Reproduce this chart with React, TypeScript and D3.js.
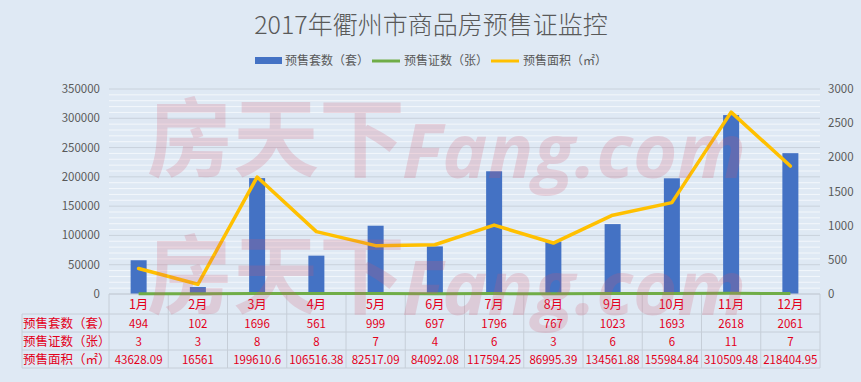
import React from "react";
import * as d3 from "d3";

const months = ["1月", "2月", "3月", "4月", "5月", "6月", "7月", "8月", "9月", "10月", "11月", "12月"];
const units = [494, 102, 1696, 561, 999, 697, 1796, 767, 1023, 1693, 2618, 2061];
const permits = [3, 3, 8, 8, 7, 4, 6, 3, 6, 6, 11, 7];
const areas = [43628.09, 16561, 199610.6, 106516.38, 82517.09, 84092.08, 117594.25, 86995.39, 134561.88, 155984.84, 310509.48, 218404.95];
const areaLabels = ["43628.09", "16561", "199610.6", "106516.38", "82517.09", "84092.08", "117594.25", "86995.39", "134561.88", "155984.84", "310509.48", "218404.95"];
const leftTicks = [0, 50000, 100000, 150000, 200000, 250000, 300000, 350000];
const rightTicks = [0, 500, 1000, 1500, 2000, 2500, 3000];
const rowNames = ["预售套数（套）", "预售证数（张）", "预售面积（㎡）"];
const title = "2017年衢州市商品房预售证监控";

const W = 861, H = 382;
const FONT = "'Noto Sans CJK SC', 'Noto Sans', sans-serif";
const RED = "#e3001b";
const GRAY = "#595959";

export default function App() {
  const x = d3.scaleBand<string>().domain(months).range([109, 820]).padding(0);
  const yL = d3.scaleLinear().domain([0, 350000]).range([294, 89]);
  const yR = d3.scaleLinear().domain([0, 3000]).range([294, 89]);
  const cx = (m: string) => (x(m) as number) + x.bandwidth() / 2;
  const barW = 16;

  const minor = d3.range(0, 350001, 10000).filter((v) => v % 50000 !== 0);

  const areaLine = d3.line<number>().x((_, i) => cx(months[i])).y((d) => yL(d));
  const permitLine = d3.line<number>().x((_, i) => cx(months[i])).y((d) => yR(d));

  const rowLines = [314, 332, 350, 368];
  const rowText = [323, 341, 359];
  const rowValues = [units.map(String), permits.map(String), areaLabels];

  return (
    <svg width={W} height={H} style={{ position: "absolute", left: 0, top: 0, display: "block" }} fontFamily={FONT}>
      <rect x={0} y={0} width={W} height={H} fill="#dfe9f4" />
      {minor.map((v) => (
        <line key={"m" + v} x1={109} x2={820} y1={yL(v)} y2={yL(v)} stroke="#f3f7fb" strokeWidth={1} />
      ))}
      {leftTicks.map((v) => (
        <line key={"g" + v} x1={109} x2={820} y1={yL(v)} y2={yL(v)} stroke="#c9d2dc" strokeWidth={1} />
      ))}
      <text x={431} y={34} textAnchor="middle" fontSize={25} fill={GRAY} fontWeight={300}>{title}</text>
      <rect x={255} y={57} width={27} height={7} fill="#4472c4" />
      <text x={285} y={65} fontSize={12} fill={GRAY}>预售套数（套）</text>
      <line x1={372} x2={400} y1={61} y2={61} stroke="#70ad47" strokeWidth={3} />
      <text x={404} y={65} fontSize={12} fill={GRAY}>预售证数（张）</text>
      <line x1={491} x2={519} y1={61} y2={61} stroke="#ffc000" strokeWidth={3} />
      <text x={523} y={65} fontSize={12} fill={GRAY}>预售面积（㎡）</text>
      {leftTicks.map((v) => (
        <text key={"l" + v} x={100} y={yL(v) + 4} textAnchor="end" fontSize={11.5} fill={GRAY}>{v}</text>
      ))}
      {rightTicks.map((v) => (
        <text key={"r" + v} x={828} y={yR(v) + 4} textAnchor="start" fontSize={11.5} fill={GRAY}>{v}</text>
      ))}
      {units.map((v, i) => (
        <rect key={"b" + i} x={cx(months[i]) - barW / 2} y={yR(v)} width={barW} height={294 - yR(v)} fill="#4472c4" />
      ))}
      {d3.range(13).map((i) => {
        const xx = 109 + i * x.bandwidth();
        return <line key={"v" + i} x1={xx} x2={xx} y1={294} y2={368} stroke="#c6ced8" strokeWidth={1} />;
      })}
      <line x1={22} x2={22} y1={314} y2={368} stroke="#c6ced8" strokeWidth={1} />
      {rowLines.map((yy) => (
        <line key={"h" + yy} x1={22} x2={820} y1={yy} y2={yy} stroke="#c6ced8" strokeWidth={1} />
      ))}
      <line x1={109} x2={820} y1={294} y2={294} stroke="#c6ced8" strokeWidth={1} />
      <path d={permitLine(permits) as string} fill="none" stroke="#70ad47" strokeWidth={3} />
      <path d={areaLine(areas) as string} fill="none" stroke="#ffc000" strokeWidth={3.5} strokeLinejoin="round" strokeLinecap="round" />
      {months.map((m) => (
        <text key={"mt" + m} x={cx(m)} y={309} textAnchor="middle" fontSize={12.5} fill={RED}>{m}</text>
      ))}
      {rowNames.map((n, r) => (
        <text key={"rn" + r} x={23} y={rowText[r] + 4.5} fontSize={12.5} fill={RED}>{n}</text>
      ))}
      {rowValues.map((vals, r) =>
        vals.map((v, i) => (
          <text key={"rv" + r + "-" + i} x={cx(months[i])} y={rowText[r] + 4.5} textAnchor="middle" fontSize={11.5} fill={RED}>{v}</text>
        ))
      )}
      <g fill="#d4566f" opacity={0.2} fontWeight={700}>
        <text x={147} y={170} fontSize={86} fontFamily="'Noto Sans CJK SC', sans-serif">房天下</text>
        <text x={402} y={178} fontSize={76} fontStyle="italic" fontFamily="'Open Sans', 'DejaVu Sans', sans-serif">Fang.com</text>
        <text x={147} y={307} fontSize={86} fontFamily="'Noto Sans CJK SC', sans-serif">房天下</text>
        <text x={402} y={315} fontSize={76} fontStyle="italic" fontFamily="'Open Sans', 'DejaVu Sans', sans-serif">Fang.com</text>
      </g>
    </svg>
  );
}
